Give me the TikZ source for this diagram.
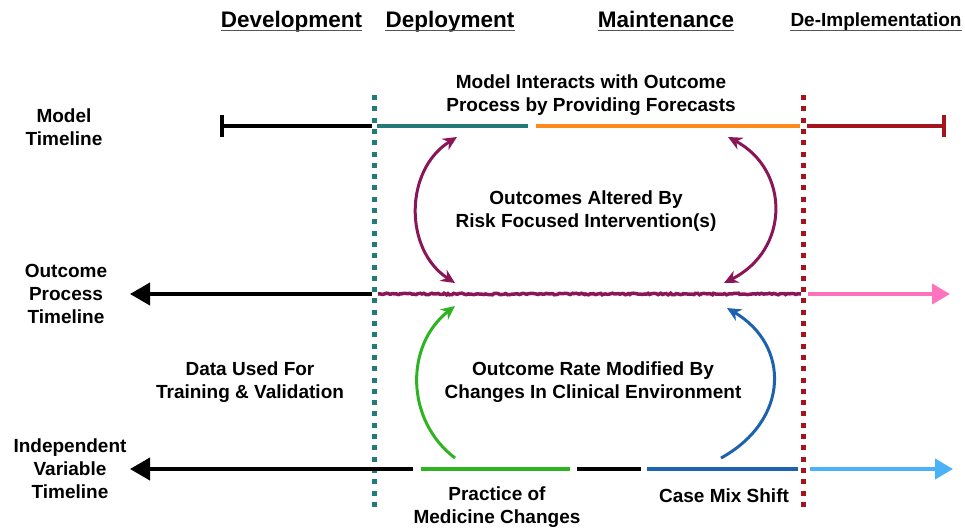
\documentclass[tikz,border=0pt]{standalone}
\usepackage{fontspec}
\setmainfont{Liberation Sans}
\usetikzlibrary{arrows.meta,decorations.pathmorphing}

\definecolor{tealc}{HTML}{237A76}
\definecolor{orangec}{HTML}{FF8A1C}
\definecolor{darkredc}{HTML}{A3141C}
\definecolor{plumc}{HTML}{8A1658}
\definecolor{pinkc}{HTML}{FF72BC}
\definecolor{greenc}{HTML}{2EB321}
\definecolor{bluec}{HTML}{1D62AE}
\definecolor{skyc}{HTML}{4BB2F7}
\definecolor{ulc}{HTML}{555555}

\tikzset{
  heading/.style={font=\bfseries\fontsize{22.5}{26}\selectfont, inner sep=0pt, anchor=base},
  smallheading/.style={font=\bfseries\fontsize{19}{23}\selectfont, inner sep=0pt, anchor=base},
  lbl/.style={font=\bfseries\fontsize{19}{23}\selectfont, align=center, inner sep=0pt},
  ln/.style={line width=4pt},
  phase/.style={line width=5pt, dash pattern=on 5pt off 6.3pt},
  bigtip/.style={-{Triangle[length=20pt,width=22pt]}},
  bartip/.style={{Bar[width=22pt]}-},
  effect/.style={line width=3pt, -{Stealth[length=14pt,width=13pt]}},
  both/.style={line width=3pt, {Stealth[length=14pt,width=13pt]}-{Stealth[length=14pt,width=13pt]}},
  ul/.style={draw=ulc, line width=1.5pt}
}

\begin{document}
\begin{tikzpicture}[x=1pt,y=-1pt]
\useasboundingbox (0,0) rectangle (965,531);

% phase headings, underlined just below the baseline
\node[heading] (hdev) at (291.5,27) {Development};
\node[heading] (hdep) at (450,27) {Deployment};
\node[heading] (hmai) at (666,27) {Maintenance};
\node[smallheading] (hdei) at (876,26) {De-Implementation};
\foreach \h in {hdev,hdep,hmai,hdei}
  \draw[ul] (\h.base west |- 0,30.5) -- (\h.base east |- 0,30.5);

% row labels
\node[lbl] (lmodel) at (64,127) {Model\\Timeline};
\node[lbl] (lout) at (66,294) {Outcome\\Process\\Timeline};
\node[lbl] (lind) at (70,469) {Independent\\Variable\\Timeline};

% phase boundaries
\coordinate (dtop) at (374,95);
\coordinate (dbot) at (374,507);
\coordinate (rtop) at (803,95);
\coordinate (rbot) at (803,507);
\draw[phase, tealc] (dtop) -- (dbot);
\draw[phase, darkredc] (rtop) -- (rbot);

% model timeline
\coordinate (m0) at (220,126);
\coordinate (m1) at (372,126);
\coordinate (m2) at (377,126);
\coordinate (m3) at (528,126);
\coordinate (m4) at (536,126);
\coordinate (m5) at (800,126);
\coordinate (m6) at (807,126);
\coordinate (m7) at (946,126);
\draw[ln, black, bartip] (m0) -- (m1);
\draw[ln, tealc] (m2) -- (m3);
\draw[ln, orangec] (m4) -- (m5);
\draw[ln, darkredc, -{Bar[width=22pt]}] (m6) -- (m7);

% outcome process timeline
\coordinate (o0) at (372,294);
\coordinate (o1) at (130,294);
\coordinate (o2) at (378,294);
\coordinate (o3) at (801,294);
\coordinate (o4) at (808,294);
\coordinate (o5) at (950,294);
\draw[ln, black, bigtip] (o0) -- (o1);
\pgfmathsetseed{7}
\draw[line width=3.5pt, plumc, decorate,
      decoration={random steps, segment length=2pt, amplitude=0.8pt}] (o2) -- (o3);
\draw[ln, pinkc, -{Triangle[length=18pt,width=20pt]}] (o4) -- (o5);

% independent variable timeline
\coordinate (i0) at (413,469);
\coordinate (i1) at (130,469);
\coordinate (i2) at (421,469);
\coordinate (i3) at (570,469);
\coordinate (i4) at (577,469);
\coordinate (i5) at (641,469);
\coordinate (i6) at (647,469);
\coordinate (i7) at (798,469);
\coordinate (i8) at (810,469);
\coordinate (i9) at (953,469);
\draw[ln, black, bigtip] (i0) -- (i1);
\draw[ln, greenc] (i2) -- (i3);
\draw[ln, black] (i4) -- (i5);
\draw[ln, bluec] (i6) -- (i7);
\draw[ln, skyc, -{Triangle[length=18pt,width=20pt]}] (i8) -- (i9);

% descriptive labels
\node[lbl] (tforecast) at (591,95) {Model Interacts with Outcome\\Process by Providing Forecasts};
\node[lbl] (taltered) at (586,211) {Outcomes Altered By\\Risk Focused Intervention(s)};
\node[lbl] (ttrain) at (250,382) {Data Used For\\Training \& Validation};
\node[lbl] (tmod) at (593,382) {Outcome Rate Modified By\\Changes In Clinical Environment};
\node[lbl] (tpractice) at (497,507) {Practice of\\Medicine Changes};
\node[lbl, anchor=base] (tcase) at (724,502) {Case Mix Shift};

% interactions between model and outcomes
\coordinate (pa1) at (457,137);
\coordinate (pa2) at (455,283);
\coordinate (pb1) at (728,137);
\coordinate (pb2) at (724,283);
\draw[both, plumc] (pa1) .. controls (404,170) and (404,250) .. (pa2);
\draw[both, plumc] (pb1) .. controls (790,170) and (790,250) .. (pb2);

% environment changes acting on outcomes
\coordinate (g1) at (455,458);
\coordinate (g2) at (455,306);
\coordinate (b1) at (721,458);
\coordinate (b2) at (727,308);
\draw[effect, greenc] (g1) .. controls (405,420) and (405,345) .. (g2);
\draw[effect, bluec] (b1) .. controls (790,420) and (790,345) .. (b2);
\end{tikzpicture}
\end{document}
